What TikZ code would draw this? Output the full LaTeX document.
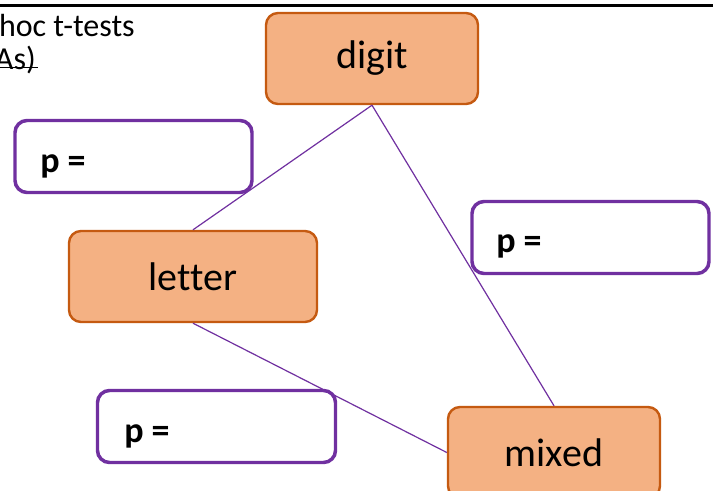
\documentclass[tikz,border=0pt]{standalone}
\usepackage{fontspec}
\setmainfont{Carlito}[Ligatures=NoCommon]
\definecolor{boxfill}{HTML}{F4B183}
\definecolor{boxline}{HTML}{C55A11}
\definecolor{pline}{HTML}{7030A0}
\tikzset{
  level/.style={draw=boxline, fill=boxfill, line width=1.8pt, rounded corners=9pt,
    minimum width=#1*0.75pt, minimum height=68.25pt, inner sep=0pt,
    font=\fontsize{30}{36}\selectfont},
  pbox/.style={draw=pline, fill=white, line width=2.6pt, rounded corners=9pt,
    minimum width=237*0.75pt, minimum height=54pt, inner sep=0pt},
  plabel/.style={anchor=base west, inner sep=0pt, font=\fontsize{27}{31}\selectfont\bfseries},
  note/.style={anchor=base east, inner sep=0pt, font=\fontsize{24}{28}\selectfont},
  link/.style={draw=pline, line width=0.9pt}
}
\begin{document}
\begin{tikzpicture}[x=0.75pt, y=-0.75pt]
\useasboundingbox (0,0) rectangle (713,491);
\clip (0,0) rectangle (713,491);
\fill[white] (0,0) rectangle (713,491);

% heading rule and partly visible title text
\draw[line width=1.6pt] (0,5.5) -- (713,5.5);
\node[note] (hoc) at (135,37) {hoc t-tests};
\node[note] (anovas) at (36,70) {As)};
\draw[line width=1pt] (0,67.5) -- (38,67.5);

% p-value boxes
\node[pbox] (p1) at (133.5,156.5) {};
\node[plabel] (p1t) at (40,173) {p =};
\node[pbox] (p2) at (590.5,237.5) {};
\node[plabel] (p2t) at (496,253) {p =};
\node[pbox, minimum width=238*0.75pt] (p3) at (216.5,426.5) {};
\node[plabel] (p3t) at (124,442) {p =};

% condition boxes
\node[level=212] (digit) at (372,58.5) {digit};
\node[level=248] (letter) at (193,276.5) {letter};
\node[level=212] (mixed) at (554,452.5) {mixed};

% pairwise comparisons
\draw[link] (digit.south) -- (letter.north);
\draw[link] (digit.south) -- (mixed.north);
\draw[link] (letter.south) -- (mixed.west);
\end{tikzpicture}
\end{document}
